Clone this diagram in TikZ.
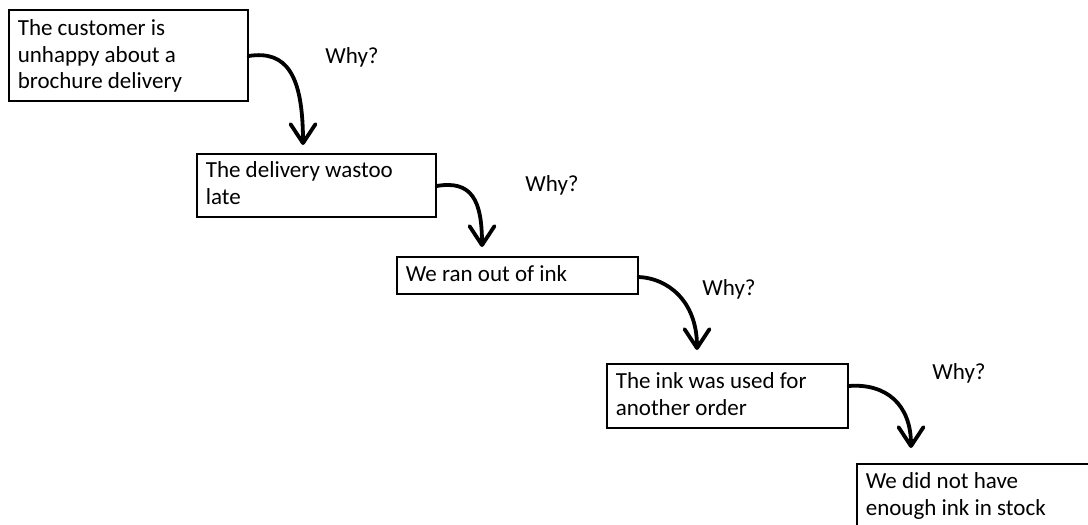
\documentclass[tikz,border=0pt]{standalone}
\usepackage{fontspec}
\setmainfont{Carlito}
\usetikzlibrary{arrows.meta,calc}
% text block of a box: width, height, depth of first baseline, lines
\newcommand\boxtext[4]{\parbox[c][#2][t]{#1}{\raggedright\rule{0pt}{#3}#4}}
\begin{document}
\begin{tikzpicture}[x=0.5pt,y=-0.5pt,
  box/.style={draw=black, line width=0.8pt, inner xsep=4.5pt, inner ysep=0pt,
    anchor=north west, font=\fontsize{11.5}{13.2}\selectfont},
  why/.style={anchor=base west, inner sep=0pt, font=\fontsize{11.5}{13.2}\selectfont},
  arr/.style={line width=1.9pt, line cap=round,
    -{Straight Barb[length=9.5pt,width=12.5pt,round]}}]
\clip (0,0) rectangle (1088,525);

\node[box] (b1) at (8,9)
  {\boxtext{110.5pt}{45.5pt}{13pt}{The customer is\\unhappy about a\\brochure delivery}};
\node[box] (b2) at (196,153)
  {\boxtext{110.5pt}{31.5pt}{12pt}{The delivery wastoo\\late}};
\node[box] (b3) at (396,256)
  {\boxtext{111.5pt}{18.5pt}{12.5pt}{We ran out of ink}};
\node[box] (b4) at (606,363)
  {\boxtext{111.5pt}{32pt}{12.5pt}{The ink was used for\\another order}};
\node[box] (b5) at (856,463)
  {\boxtext{111.5pt}{32pt}{12.5pt}{We did not have\\enough ink in stock}};

\node[why] (w1) at (325,63) {Why?};
\node[why] (w2) at (525,191) {Why?};
\node[why] (w3) at (702,295) {Why?};
\node[why] (w4) at (932,379) {Why?};

\draw[arr] ($(b1.north east)+(0,47)$) .. controls +(38,-6) and +(0,-70) .. ($(b2.north west)+(107,-8)$);
\draw[arr] ($(b2.north east)+(0,33)$) .. controls +(35,-6) and +(0,-47) .. ($(b3.north west)+(86,-9)$);
\draw[arr] ($(b3.north east)+(0,21)$) .. controls +(28,1) and +(0,-50) .. ($(b4.north west)+(91,-13)$);
\draw[arr] ($(b4.north east)+(0,23)$) .. controls +(38,-3) and +(0,-43) .. ($(b5.north west)+(55,-15)$);
\end{tikzpicture}
\end{document}
